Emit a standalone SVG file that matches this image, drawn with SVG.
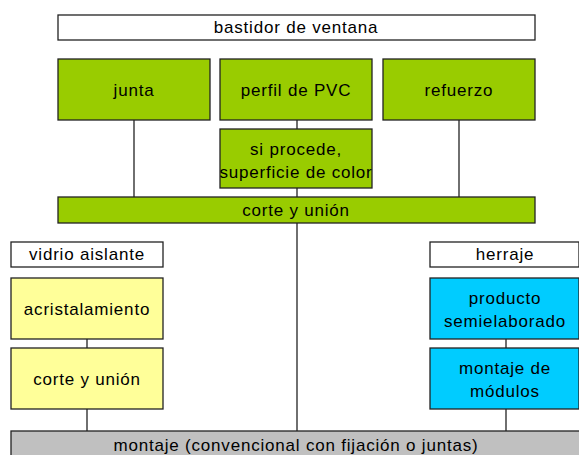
<svg xmlns="http://www.w3.org/2000/svg" width="579" height="455" viewBox="0 0 579 455">
<style>
.b{stroke:#222;stroke-width:1.3}
.w{fill:#fff}.g{fill:#99cc00}.y{fill:#ffff99}.c{fill:#00ccff}.gr{fill:#c0c0c0}
text{font-family:"Liberation Sans",Arial,sans-serif;font-size:17px;letter-spacing:0.8px;fill:#000;text-anchor:middle}
.ln{stroke:#222;stroke-width:1.3;fill:none}
</style>
<defs><clipPath id="cp"><rect x="220" y="129" width="152" height="59"/></clipPath></defs>
<rect width="579" height="455" fill="#fff"/>
<g id="connectors">
<line class="ln" x1="134" y1="120" x2="134" y2="197"/>
<line class="ln" x1="297" y1="120" x2="297" y2="129"/>
<line class="ln" x1="297" y1="188" x2="297" y2="197"/>
<line class="ln" x1="459" y1="120" x2="459" y2="197"/>
<line class="ln" x1="297" y1="223" x2="297" y2="431"/>
<line class="ln" x1="87" y1="339" x2="87" y2="348"/>
<line class="ln" x1="87" y1="409" x2="87" y2="431"/>
<line class="ln" x1="506" y1="339" x2="506" y2="348"/>
<line class="ln" x1="506" y1="409" x2="506" y2="431"/>
</g>
<g id="bastidor"><rect class="b w" x="58" y="15" width="477" height="25"/><text x="296" y="33">bastidor de ventana</text></g>
<g id="junta"><rect class="b g" x="58" y="59" width="152" height="61"/><text x="134" y="96">junta</text></g>
<g id="perfil"><rect class="b g" x="220" y="59" width="152" height="61"/><text x="296" y="96">perfil de PVC</text></g>
<g id="refuerzo"><rect class="b g" x="383" y="59" width="152" height="61"/><text x="459" y="96">refuerzo</text></g>
<g id="superficie"><rect class="b g" x="220" y="129" width="152" height="59"/><g clip-path="url(#cp)"><text x="296" y="155">si procede,</text><text x="296" y="178">superficie de color</text></g></g>
<g id="corte"><rect class="b g" x="58" y="197" width="477" height="26"/><text x="296" y="216">corte y unión</text></g>
<g id="vidrio"><rect class="b w" x="11" y="242" width="152" height="25"/><text x="87" y="260">vidrio aislante</text></g>
<g id="acristalamiento"><rect class="b y" x="11" y="278" width="152" height="61"/><text x="87" y="315">acristalamiento</text></g>
<g id="corte2"><rect class="b y" x="11" y="348" width="152" height="61"/><text x="87" y="385">corte y unión</text></g>
<g id="herraje"><rect class="b w" x="430" y="242" width="149" height="25"/><text x="505" y="260">herraje</text></g>
<g id="producto"><rect class="b c" x="430" y="278" width="149" height="61"/><text x="505" y="304">producto</text><text x="505" y="327">semielaborado</text></g>
<g id="modulos"><rect class="b c" x="430" y="348" width="149" height="61"/><text x="505" y="374">montaje de</text><text x="505" y="397">módulos</text></g>
<g id="montaje"><rect class="b gr" x="11" y="431" width="569" height="30"/><text x="296" y="451">montaje (convencional con fijación o juntas)</text></g>
</svg>
